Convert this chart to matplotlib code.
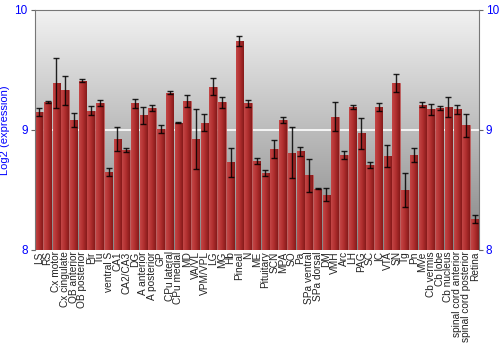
import numpy as np
import matplotlib
matplotlib.use("Agg")
import matplotlib.pyplot as plt
from matplotlib.colors import LinearSegmentedColormap

plt.rcParams["font.family"] = ["Liberation Sans", "DejaVu Sans"]

# ---- data ----
regions = ["LS", "RS", "Cx motor", "Cx cingulate", "OB anterior", "OB posterior",
           "Pir", "Tu", "ventral S", "CA1", "CA2/CA3", "DG", "A anterior",
           "A posterior", "GP", "CPu lateral", "CPu medial", "MD", "VA/VL",
           "VPM/VPL", "LG", "MG", "Hb", "Pineal", "N", "ME", "Pituitary", "SCN",
           "MPA", "SO", "Pa", "SPa ventral", "SPa dorsal", "DM", "VMH", "Arc",
           "LH", "PAG", "SC", "IC", "VTA", "SN", "Tg", "Pn", "MVe", "Cb vermis",
           "Cb lobe", "Cb nucleus", "spinal cord anterior", "spinal cord posterior",
           "Retina"]
expression = [9.15, 9.23, 9.39, 9.33, 9.08, 9.41,
              9.16, 9.22, 8.65, 8.92, 8.83, 9.22, 9.12,
              9.18, 9.01, 9.31, 9.06, 9.24, 8.92,
              9.06, 9.36, 9.23, 8.73, 9.74, 9.22, 8.74, 8.64, 8.84,
              9.08, 8.81, 8.82, 8.62, 8.51, 8.46, 9.11, 8.79,
              9.19, 8.97, 8.71, 9.19, 8.78, 9.39, 8.50, 8.79, 9.21, 9.17,
              9.18, 9.19, 9.17, 9.04,
              8.26]
error = [0.035, 0.01, 0.21, 0.12, 0.06, 0.015,
         0.04, 0.025, 0.033, 0.10, 0.015, 0.04, 0.07,
         0.025, 0.033, 0.01, 0.005, 0.05, 0.25,
         0.07, 0.07, 0.045, 0.12, 0.045, 0.03, 0.026, 0.028, 0.075,
         0.026, 0.21, 0.036, 0.136, 0.006, 0.055, 0.12, 0.034,
         0.014, 0.13, 0.025, 0.037, 0.09, 0.077, 0.14, 0.058, 0.023, 0.044,
         0.017, 0.087, 0.04, 0.096,
         0.032]
y_ticks = [8, 9, 10]

fig = plt.figure(figsize=(5, 3.5), dpi=100)
ax = fig.add_axes([0.069, 0.286, 0.889, 0.686])

x = np.arange(len(regions))
ax.set_xlim(-0.5, len(regions) - 0.5)
ax.set_ylim(8, 10)

# gray vertical gradient background
bg = LinearSegmentedColormap.from_list("bg", ["#868686", "#f2f2f2"])
ax.imshow(np.linspace(0, 1, 256).reshape(-1, 1), cmap=bg, origin="lower",
          extent=[-0.5, len(regions) - 0.5, 8, 10], aspect="auto", zorder=0)

ax.axhline(9, color="white", lw=1.2, zorder=1)

# bars with horizontal red shading
bars = ax.bar(x, np.array(expression) - 8, bottom=8, width=0.85,
              color="#a82828", edgecolor="#c06060", linewidth=0.6, zorder=2)
shade = LinearSegmentedColormap.from_list("shade", ["#c44646", "#b02e2e", "#861a1a"])
grad = np.linspace(0, 1, 64).reshape(1, -1)
for b in bars:
    x0, w = b.get_x(), b.get_width()
    im = ax.imshow(grad, cmap=shade, extent=[x0, x0 + w, 8, b.get_y() + b.get_height()],
                   aspect="auto", zorder=2.5)
    im.set_clip_path(b)

ax.errorbar(x, expression, yerr=error, fmt="none", ecolor="black",
            elinewidth=1.0, capsize=2, capthick=1.0, alpha=0.85, zorder=3)

ax.set_xticks(x)
ax.set_xticklabels(regions, rotation=90, fontsize=7.3, color="#222222")
ax.tick_params(axis="x", length=0, pad=1)

ax.set_yticks(y_ticks)
ax.set_yticklabels([str(t) for t in y_ticks])
ax.tick_params(axis="y", colors="#666666", labelcolor="blue", labelsize=8.5,
               length=3, right=True, labelright=True, pad=2)
ax.set_ylabel("Log2 (expression)", color="blue", fontsize=8, labelpad=3)

for side in ["left", "right", "top"]:
    ax.spines[side].set_color("#777777")
ax.spines["bottom"].set_visible(False)

fig.savefig("out.png", dpi=100)
